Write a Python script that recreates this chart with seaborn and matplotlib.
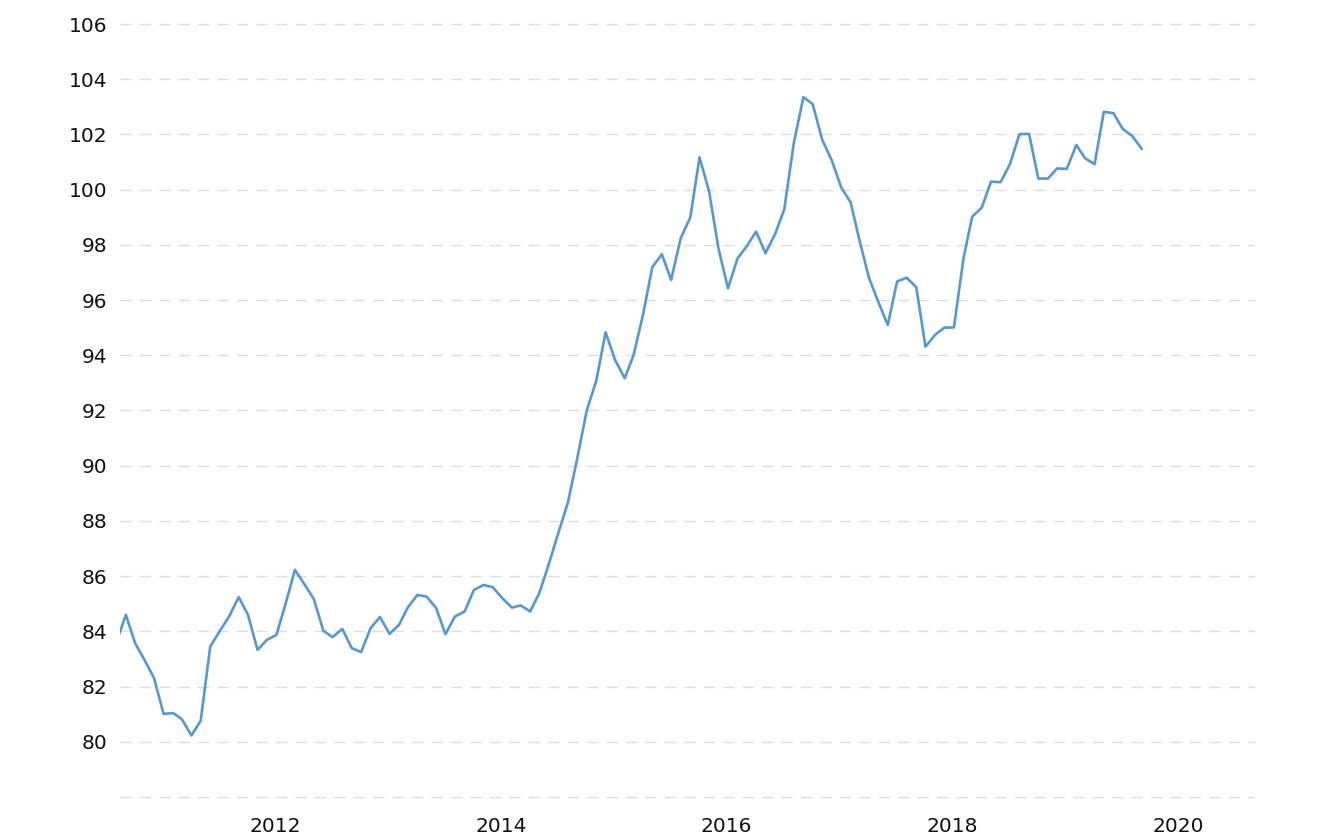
import pandas as pd
import numpy as np
import seaborn as sns
import matplotlib.pyplot as plt

sns.set_style('white')
plt.rcParams['font.family'] = ['DejaVu Sans']

# monthly index values, Aug 2010 - Sep 2019
start_month = '2010-08-01'
values = [83.6,
          84.60, 83.57, 82.95, 82.31, 81.01, 81.04, 80.82, 80.23, 80.76, 83.45,
          84.00, 84.54, 85.24, 84.60, 83.33, 83.69, 83.87, 85.05, 86.23, 85.70,
          85.17, 84.02, 83.79, 84.09, 83.39, 83.25, 84.12, 84.52, 83.91, 84.24,
          84.86, 85.32, 85.26, 84.84, 83.90, 84.54, 84.72, 85.50, 85.68, 85.60,
          85.20, 84.86, 84.94, 84.72, 85.40, 86.46, 87.56, 88.66, 90.30, 92.00,
          93.08, 94.83, 93.82, 93.17, 93.99, 95.46, 97.19, 97.66, 96.73, 98.24,
          98.99, 101.17, 99.93, 97.88, 96.43, 97.51, 97.94, 98.48, 97.70, 98.38,
          99.28, 101.69, 103.35, 103.10, 101.80, 101.08, 100.09, 99.53, 98.18, 96.81,
          95.94, 95.10, 96.67, 96.81, 96.47, 94.31, 94.74, 95.00, 95.01, 97.52,
          99.02, 99.35, 100.29, 100.27, 100.92, 102.01, 102.02, 100.40, 100.40, 100.77,
          100.75, 101.62, 101.14, 100.92, 102.82, 102.77, 102.20, 101.94, 101.47]

y_ticks = list(range(78, 107, 2))
y_labels = [''] + [str(v) for v in range(80, 107, 2)]
x_years = ['2012', '2014', '2016', '2018', '2020']

dates = pd.date_range(start_month, periods=len(values), freq='MS') + pd.Timedelta(days=5)
df = pd.DataFrame({'date': dates, 'value': values})

fig = plt.figure(figsize=(13.32, 8.4), dpi=100)
ax = fig.add_axes([120/1332, 1 - 799/840, (1255-120)/1332, (799-22)/840])

sns.lineplot(data=df, x='date', y='value', ax=ax, color='#5698d3', linewidth=1.9)

ax.set_xlim(pd.Timestamp('2010-08-18'), pd.Timestamp('2020-09-06'))
ax.set_ylim(78 - 2/27.6, 106 + 2/27.6)
ax.set_yticks(y_ticks)
ax.set_yticklabels(y_labels)
ax.set_xticks([pd.Timestamp(y + '-01-01') for y in x_years])
ax.set_xticklabels(x_years)

ax.grid(axis='y', color='#dcdcdc', linestyle=(0, (8, 6)), linewidth=1.0)
ax.grid(axis='x', visible=False)
for s in ax.spines.values():
    s.set_visible(False)
ax.tick_params(axis='both', length=0, labelsize=14.5, colors='#111111')
ax.tick_params(axis='y', pad=9)
ax.tick_params(axis='x', pad=13)
ax.set_xlabel('')
ax.set_ylabel('')

fig.savefig('out.png', dpi=100)
